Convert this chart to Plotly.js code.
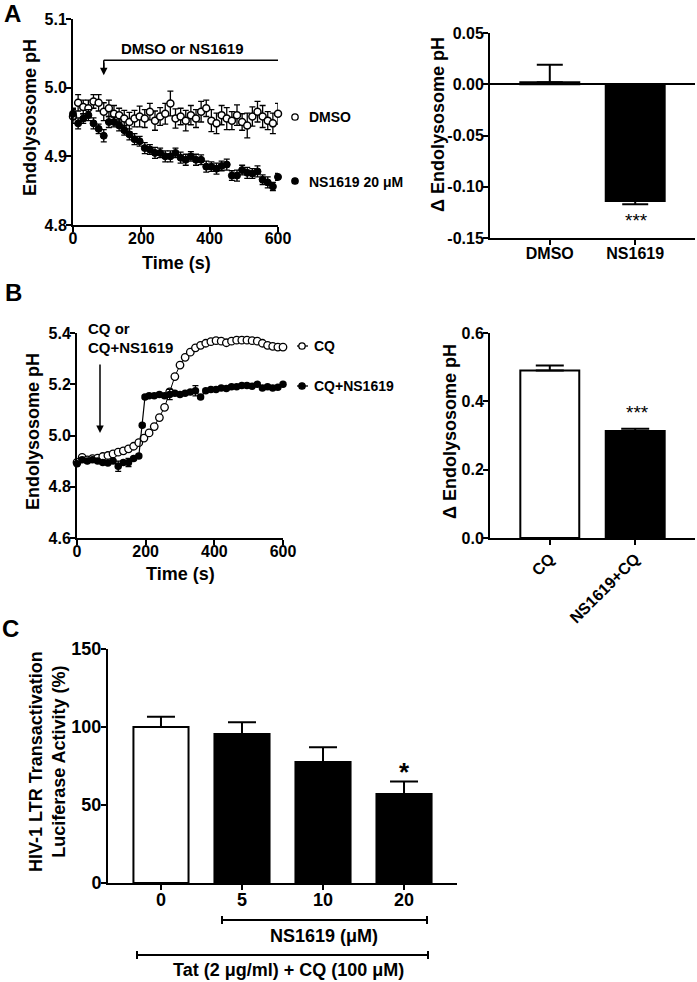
<!DOCTYPE html>
<html><head><meta charset="utf-8">
<script src="https://cdn.plot.ly/plotly-3.0.1.min.js"></script>
<style>html,body{margin:0;padding:0;background:#fff}</style>
</head><body><div id="chart" style="width:697px;height:982px"></div>
<script>
// ---------- Panel A (time course) ----------
const timeA = [0,15,30,45,60,75,90,105,120,135,150,165,180,195,210,225,240,255,270,285,300,315,330,345,360,375,390,405,420,435,450,465,480,495,510,525,540,555,570,585,600];
const phDMSO = [4.958,4.978,4.972,4.970,4.980,4.978,4.965,4.970,4.962,4.960,4.955,4.950,4.955,4.958,4.955,4.965,4.952,4.958,4.962,4.977,4.955,4.958,4.952,4.960,4.955,4.965,4.970,4.952,4.948,4.960,4.955,4.952,4.960,4.950,4.945,4.958,4.965,4.958,4.952,4.948,4.962];
const errDMSO = [0.010,0.012,0.010,0.012,0.010,0.012,0.013,0.012,0.012,0.010,0.012,0.014,0.012,0.015,0.013,0.012,0.014,0.013,0.015,0.018,0.014,0.012,0.015,0.014,0.013,0.015,0.012,0.016,0.015,0.014,0.016,0.013,0.015,0.012,0.018,0.014,0.015,0.016,0.013,0.015,0.015];
const phNS = [4.962,4.948,4.955,4.960,4.948,4.940,4.930,4.950,4.950,4.945,4.938,4.932,4.925,4.922,4.912,4.910,4.905,4.905,4.900,4.900,4.905,4.898,4.895,4.900,4.895,4.895,4.885,4.885,4.882,4.886,4.888,4.872,4.872,4.880,4.876,4.875,4.878,4.866,4.862,4.856,4.870];
const errNS = [0.008,0.008,0.007,0.008,0.008,0.007,0.009,0.008,0.007,0.008,0.007,0.008,0.008,0.007,0.008,0.007,0.008,0.007,0.008,0.008,0.007,0.008,0.008,0.007,0.008,0.007,0.008,0.007,0.008,0.007,0.008,0.007,0.008,0.007,0.008,0.007,0.008,0.007,0.008,0.006,0.005];

// ---------- Panel A (bar) ----------
const catsA = ['DMSO','NS1619'];
const deltaA = [0.002,-0.114];
const deltaAErrUp = [0.017,0];
const deltaAErrDown = [0,0.003];
const tickValsA = [-0.15,-0.10,-0.05,0.00,0.05];
const tickTextA = ['-0.15','-0.10','-0.05','0.00','0.05'];

// ---------- Panel B (time course) ----------
const timeCQ = [0,15,30,45,60,75,90,105,120,135,150,165,180,195,210,225,240,255,270,285,300,315,330,345,360,375,390,405,420,435,450,465,480,495,510,525,540,555,570,585,600];
const phCQ = [4.895,4.915,4.905,4.910,4.912,4.918,4.922,4.928,4.935,4.940,4.948,4.958,4.972,4.990,5.010,5.035,5.070,5.110,5.170,5.230,5.275,5.305,5.325,5.342,5.352,5.360,5.366,5.370,5.368,5.362,5.368,5.372,5.372,5.372,5.370,5.368,5.360,5.352,5.348,5.345,5.345];
const errCQ = [0.006,0.005,0.005,0.005,0.005,0.005,0.005,0.005,0.005,0.005,0.005,0.005,0.005,0.005,0.005,0.005,0.005,0.005,0.005,0.005,0.005,0.005,0.005,0.005,0.005,0.005,0.005,0.005,0.005,0.005,0.005,0.005,0.005,0.005,0.005,0.005,0.005,0.005,0.005,0.005,0.005];
const timeCQNS = [0,15,30,45,60,75,90,105,120,135,150,165,180,190,198,210,225,240,255,270,285,300,315,330,345,360,375,390,405,420,435,450,465,480,495,510,525,540,555,570,585,600];
const phCQNS = [4.890,4.905,4.900,4.905,4.900,4.895,4.893,4.900,4.880,4.895,4.895,4.910,4.920,5.040,5.150,5.155,5.155,5.160,5.155,5.160,5.165,5.160,5.165,5.170,5.175,5.150,5.175,5.180,5.180,5.185,5.183,5.190,5.190,5.195,5.195,5.192,5.200,5.185,5.190,5.185,5.188,5.200];
const errCQNS = [0.008,0.006,0.006,0.006,0.006,0.006,0.006,0.006,0.020,0.006,0.016,0.006,0.006,0.006,0.006,0.006,0.006,0.006,0.006,0.020,0.006,0.006,0.006,0.006,0.020,0.006,0.006,0.006,0.006,0.006,0.006,0.006,0.006,0.006,0.006,0.006,0.006,0.006,0.006,0.006,0.006,0.006];

// ---------- Panel B (bar) ----------
const catsB = ['CQ','NS1619+CQ'];
const deltaB = [0.490,0.313];
const deltaBErr = [0.015,0.007];

// ---------- Panel C ----------
const catsC = ['0','5','10','20'];
const lucC = [100,95.5,77.5,57];
const lucCErr = [6.5,7.5,9.5,8];

// ---------- styling ----------
const W = 697, H = 982;
const px = x => x / W;
const py = y => 1 - y / H;
const FONT = 'Liberation Sans, Arial, sans-serif';
const BLACK = '#000';
const bf = (size, weight) => ({family: FONT, size: size, color: BLACK, weight: weight || 'bold'});

function axis(extra) {
  return Object.assign({
    showline: true, linecolor: BLACK, linewidth: 2,
    ticks: 'outside', ticklen: 5, tickwidth: 2, tickcolor: BLACK,
    showgrid: false, zeroline: false, fixedrange: true, automargin: false,
    tickfont: bf(16)
  }, extra);
}
const fillFor = (cats, whiteIdx) => cats.map((c, i) => whiteIdx.includes(i) ? '#fff' : BLACK);

const traces = [
  {x: timeA, y: phDMSO, xaxis: 'x', yaxis: 'y', type: 'scatter', mode: 'markers', cliponaxis: false,
   marker: {symbol: 'circle', size: 7, color: '#fff', line: {color: BLACK, width: 1.5}},
   error_y: {type: 'data', array: errDMSO, color: BLACK, thickness: 1.3, width: 3}},
  {x: timeA, y: phNS, xaxis: 'x', yaxis: 'y', type: 'scatter', mode: 'markers', cliponaxis: false,
   marker: {symbol: 'circle', size: 7, color: BLACK, line: {color: BLACK, width: 1}},
   error_y: {type: 'data', array: errNS, color: BLACK, thickness: 1.3, width: 3}},
  {x: catsA, y: deltaA, xaxis: 'x2', yaxis: 'y2', type: 'bar', width: 0.69,
   marker: {color: fillFor(catsA, [0]), line: {color: BLACK, width: 2}},
   error_y: {type: 'data', symmetric: false, array: deltaAErrUp, arrayminus: deltaAErrDown, color: BLACK, thickness: 2, width: 13}},
  {x: timeCQ, y: phCQ, xaxis: 'x3', yaxis: 'y3', type: 'scatter', mode: 'lines+markers', cliponaxis: false,
   line: {color: BLACK, width: 1},
   marker: {symbol: 'circle', size: 7.5, color: '#fff', line: {color: BLACK, width: 1.3}},
   error_y: {type: 'data', array: errCQ, color: BLACK, thickness: 1.3, width: 3}},
  {x: timeCQNS, y: phCQNS, xaxis: 'x3', yaxis: 'y3', type: 'scatter', mode: 'lines+markers', cliponaxis: false,
   line: {color: BLACK, width: 1.2},
   marker: {symbol: 'circle', size: 7.5, color: BLACK},
   error_y: {type: 'data', array: errCQNS, color: BLACK, thickness: 1.3, width: 3}},
  {x: catsB, y: deltaB, xaxis: 'x4', yaxis: 'y4', type: 'bar', width: 0.69,
   marker: {color: fillFor(catsB, [0]), line: {color: BLACK, width: 2}},
   error_y: {type: 'data', symmetric: false, array: deltaBErr, arrayminus: [0,0], color: BLACK, thickness: 2, width: 14}},
  {x: catsC, y: lucC, xaxis: 'x5', yaxis: 'y5', type: 'bar', width: 0.68,
   marker: {color: fillFor(catsC, [0]), line: {color: BLACK, width: 2}},
   error_y: {type: 'data', symmetric: false, array: lucCErr, arrayminus: [0,0,0,0], color: BLACK, thickness: 2, width: 14}}
];

function ann(text, x, y, size, opts) {
  return Object.assign({text: text, xref: 'paper', yref: 'paper', x: px(x), y: py(y),
    showarrow: false, font: bf(size), xanchor: 'center', yanchor: 'middle'}, opts || {});
}
function line(x0, y0, x1, y1, w) {
  return {type: 'line', xref: 'paper', yref: 'paper', x0: px(x0), y0: py(y0), x1: px(x1), y1: py(y1),
    line: {color: BLACK, width: w || 1.5}};
}
function circ(cx, cy, r, filled) {
  return {type: 'circle', xref: 'paper', yref: 'paper', x0: px(cx - r), x1: px(cx + r), y0: py(cy + r), y1: py(cy - r),
    fillcolor: filled ? BLACK : '#fff', line: {color: BLACK, width: 1.3}};
}

const annotations = [
  ann('A', 12, 13, 24), ann('B', 13, 292, 24), ann('C', 10, 628, 24),
  // axis titles
  ann('Endolysosome pH', 30, 118, 18, {textangle: -90}),
  ann('Time (s)', 176, 263, 18),
  ann('Δ Endolysosome pH', 438, 125, 18, {textangle: -90}),
  ann('Endolysosome pH', 33, 432, 18, {textangle: -90}),
  ann('Time (s)', 180, 574, 18),
  ann('Δ Endolysosome pH', 450, 432, 18, {textangle: -90}),
  ann('HIV-1 LTR Transactivation<br>Luciferase Activity (%)', 47, 762, 18, {textangle: -90}),
  // panel A
  ann('DMSO or NS1619', 182, 48, 15),
  {x: 90, y: 5.018, xref: 'x', yref: 'y', ax: 0, ay: -14, text: '', showarrow: true, arrowhead: 2, arrowsize: 1, arrowwidth: 1.5, arrowcolor: BLACK},
  ann('DMSO', 307, 117, 14, {xanchor: 'left'}),
  ann('NS1619 20 μM', 307, 182, 14, {xanchor: 'left'}),
  ann('***', 636, 221, 19, {font: bf(19, 'normal')}),
  // panel B
  ann('CQ or', 86, 328, 15, {xanchor: 'left'}),
  ann('CQ+NS1619', 86, 347, 15, {xanchor: 'left'}),
  {x: 67, y: 5.01, xref: 'x3', yref: 'y3', ax: 0, ay: -70, text: '', showarrow: true, arrowhead: 2, arrowsize: 1, arrowwidth: 1.5, arrowcolor: BLACK},
  ann('CQ', 312, 346, 14, {xanchor: 'left'}),
  ann('CQ+NS1619', 312, 386, 14, {xanchor: 'left'}),
  ann('***', 637, 412, 19, {font: bf(19, 'normal')}),
  // panel C
  ann('*', 404, 772, 26),
  ann('NS1619 (μM)', 324, 936, 18),
  ann('Tat (2 μg/ml) + CQ (100 μM)', 288, 970, 18)
];

const shapes = [
  // panel A bracket
  {type: 'line', xref: 'x', yref: 'y', x0: 90, x1: 600, y0: 5.04, y1: 5.04, line: {color: BLACK, width: 1.5}},
  {type: 'line', xref: 'x', yref: 'y', x0: 90, x1: 90, y0: 5.04, y1: 5.025, line: {color: BLACK, width: 1.5}},
  // panel A legend markers
  circ(295, 117, 3.2, false),
  circ(295, 181, 3.2, true),
  // panel B legend markers
  line(297, 346, 308, 346, 1.3), circ(302, 346, 3.2, false),
  line(297, 386, 308, 386, 1.3), circ(302, 386, 3.2, true),
  // panel C brackets
  line(222, 920, 427, 920, 2), line(222, 916, 222, 924, 2), line(427, 916, 427, 924, 2),
  line(137, 955, 428, 955, 2), line(137, 951, 137, 959, 2), line(428, 951, 428, 959, 2)
];

const XS = -7, YS = -4;
const layout = {
  width: W, height: H, autosize: false,
  margin: {l: 0, r: 0, t: 0, b: 0, pad: 0},
  paper_bgcolor: '#fff', plot_bgcolor: 'rgba(0,0,0,0)',
  showlegend: false, bargap: 0,
  font: bf(16),
  xaxis: axis({domain: [px(73), px(278)], range: [0, 600], dtick: 200, anchor: 'y', ticklabelstandoff: XS}),
  yaxis: axis({domain: [py(225), py(19)], range: [4.8, 5.1], dtick: 0.1, tickformat: '.1f', anchor: 'x', ticklabelstandoff: YS}),
  xaxis2: axis({domain: [px(490), px(695)], type: 'category', range: [-0.7, 1.7], anchor: 'y2', ticklabelstandoff: -5}),
  yaxis2: axis({domain: [py(238), py(33)], range: [-0.15, 0.05], tickvals: tickValsA, ticktext: tickTextA, anchor: 'x2',
    zeroline: true, zerolinecolor: BLACK, zerolinewidth: 2, ticklabelstandoff: YS}),
  xaxis3: axis({domain: [px(77), px(283)], range: [0, 600], dtick: 200, anchor: 'y3', ticklabelstandoff: XS}),
  yaxis3: axis({domain: [py(538), py(333)], range: [4.6, 5.4], dtick: 0.2, tickformat: '.1f', anchor: 'x3', ticklabelstandoff: YS}),
  xaxis4: axis({domain: [px(490), px(695)], type: 'category', range: [-0.7, 1.7], anchor: 'y4', tickangle: -45, ticklabelstandoff: -2}),
  yaxis4: axis({domain: [py(538), py(333)], range: [0, 0.6], dtick: 0.2, tickformat: '.1f', anchor: 'x4', ticklabelstandoff: YS}),
  xaxis5: axis({domain: [px(108), px(457)], type: 'category', range: [-0.654, 3.654], anchor: 'y5', tickfont: bf(18), ticklabelstandoff: -6}),
  yaxis5: axis({domain: [py(883), py(649)], range: [0, 150], dtick: 50, anchor: 'x5', tickfont: bf(18), ticklabelstandoff: YS}),
  annotations: annotations,
  shapes: shapes
};

Plotly.newPlot('chart', traces, layout, {displayModeBar: false, staticPlot: true});
</script>
</body></html>
